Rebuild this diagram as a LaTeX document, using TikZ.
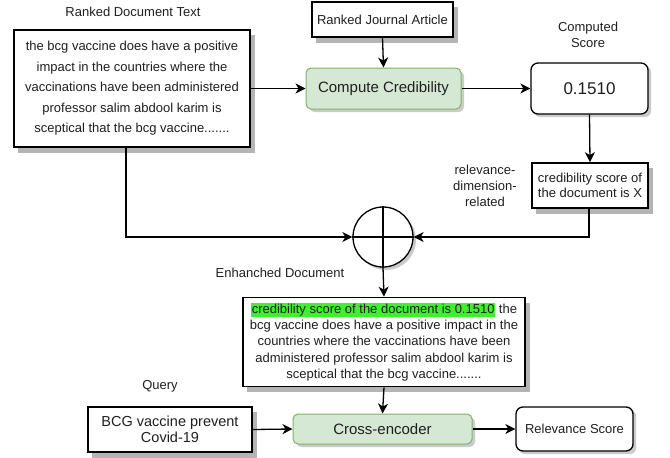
\documentclass[tikz,border=0pt]{standalone}
\usepackage{fontspec}
\setmainfont{Liberation Sans}
\usepackage{tikz}
\usetikzlibrary{arrows.meta}
\definecolor{credfill}{HTML}{D5E8D4}
\definecolor{credline}{HTML}{82B366}
\definecolor{hlgreen}{RGB}{64,240,48}
\definecolor{shadowgray}{RGB}{180,180,180}
\newcommand{\hlite}[1]{{\setlength{\fboxsep}{0.8pt}\colorbox{hlgreen}{#1}}}

\begin{document}
\begin{tikzpicture}[x=1pt,y=-1pt,>={Stealth[length=10pt,width=10pt,inset=3pt]},
                    line width=1.3pt,font=\fontsize{13}{16}\selectfont]
  \tikzstyle{every node}=[inner sep=0pt,align=center,text=black!88]
  \tikzstyle{sketch}=[rectangle,draw=black,fill=white,line width=1.7pt]
  \tikzstyle{greenbox}=[rectangle,rounded corners=5pt,draw=credline,fill=credfill,line width=1pt]
  \tikzstyle{roundbox}=[rectangle,rounded corners=7pt,draw=black,fill=white,line width=1.3pt]
  \tikzstyle{caption}=[font=\fontsize{13}{16}\selectfont]
  \tikzstyle{boxshadow}=[fill=shadowgray,draw=none]

  \useasboundingbox (0,0) rectangle (670,458);

  % shadows first (centre x / centre y / width / height)
  \foreach \cx/\cy/\w/\h in {132/88.5/236/117, 382.5/19.5/141/35, 590/185.5/116/45,
                             384/342/282/89, 170/429.5/164/45}
    \fill[boxshadow] (\cx-\w/2+4,\cy-\h/2+5) rectangle (\cx+\w/2+5,\cy+\h/2+5.5);
  \foreach \cx/\cy/\w/\h in {383.5/88.5/155/41, 589.5/88.5/117/51,
                             382.5/429/179/30, 574.5/429/117/44}
    \fill[boxshadow,fill=shadowgray!70,rounded corners=6pt] (\cx-\w/2+3,\cy-\h/2+3) rectangle (\cx+\w/2+3,\cy+\h/2+3);
  \fill[boxshadow,fill=shadowgray!70] (386,240) circle (30);

  % top row
  \node[caption] (doclbl) at (133,12) {Ranked Document Text};
  \node[sketch,minimum width=236pt,minimum height=117pt,font=\fontsize{13}{20.5}\selectfont]
       (doc) at (132,88.5) {the bcg vaccine does have a positive\\impact in the countries where the\\vaccinations have been administered\\professor salim abdool karim is\\sceptical that the bcg vaccine.......};
  \node[sketch,minimum width=141pt,minimum height=35pt] (journal) at (382.5,19.5) {Ranked Journal Article};
  \node[greenbox,minimum width=155pt,minimum height=41pt,font=\fontsize{15}{18}\selectfont]
       (cred) at (383.5,88.5) {Compute Credibility};
  \node[caption] (scorelbl) at (588,35) {Computed\\Score};
  \node[roundbox,minimum width=117pt,minimum height=51pt,font=\fontsize{17}{20}\selectfont]
       (score) at (589.5,88.5) {0.1510};

  % merge
  \node[sketch,minimum width=116pt,minimum height=45pt,font=\fontsize{13}{15}\selectfont]
       (crs) at (590,185.5) {credibility score of\\the document is X};
  \node[caption] (rellbl) at (485,186) {relevance-\\dimension-\\related};
  \node[circle,draw=black,fill=white,minimum size=60pt,line width=1.3pt] (sum) at (383,237) {};
  \draw (sum.north) -- (sum.south) (sum.west) -- (sum.east);

  \node[caption] (enhlbl) at (280,273) {Enhanched Document};
  \node[sketch,minimum width=282pt,minimum height=89pt,font=\fontsize{13}{16.3}\selectfont]
       (enh) at (384,342) {\hlite{credibility score of the document is 0.1510} the\\bcg vaccine does have a positive impact in the\\countries where the vaccinations have been\\administered professor salim abdool karim is\\sceptical that the bcg vaccine.......};

  % bottom row
  \node[caption] (querylbl) at (160,386) {Query};
  \node[sketch,minimum width=164pt,minimum height=45pt,font=\fontsize{14.5}{16.5}\selectfont]
       (query) at (170,429.5) {BCG vaccine prevent\\Covid-19};
  \node[greenbox,minimum width=179pt,minimum height=30pt,font=\fontsize{15}{18}\selectfont]
       (xenc) at (382.5,429) {Cross-encoder};
  \node[roundbox,minimum width=117pt,minimum height=44pt] (relscore) at (574.5,429) {Relevance Score};

  \path[->]
    (doc.east)     edge (cred.west)
    (journal.south) edge (cred.north)
    (cred.east)    edge (score.west)
    (score.south)  edge (crs.north)
    (sum.south)    edge (enh.north)
    (enh.south)    edge (xenc.north)
    (query.east)   edge (xenc.west)
    (xenc.east)    edge (relscore.west);
  \draw[->] ([xshift=-6pt]doc.south) |- (sum.west);
  \draw[->] ([xshift=-1pt]crs.south) |- (sum.east);

\end{tikzpicture}
\end{document}
